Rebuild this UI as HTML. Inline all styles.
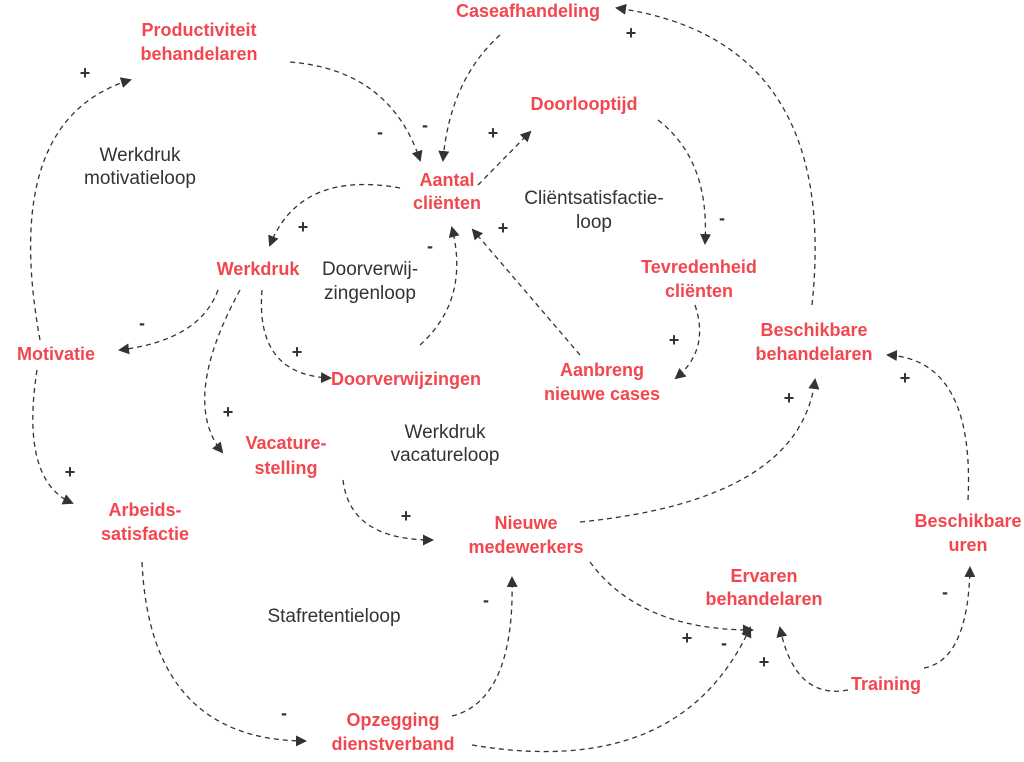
<!DOCTYPE html>
<html><head><meta charset="utf-8"><style>
html,body{margin:0;padding:0;background:#fff}
svg{display:block}
.n{font-family:"Liberation Sans",sans-serif;font-weight:bold;font-size:18px;fill:#f2474f;text-anchor:middle}
.l{font-family:"Liberation Sans",sans-serif;font-size:19px;fill:#333;text-anchor:middle}
.s{font-family:"Liberation Sans",sans-serif;font-weight:bold;font-size:18px;fill:#333;text-anchor:middle}
path.e{fill:none;stroke:#333;stroke-width:1.3;stroke-dasharray:5,4;marker-end:url(#a)}
</style></head><body>
<svg width="1024" height="762" viewBox="0 0 1024 762">
<defs><marker id="a" markerWidth="12" markerHeight="12" refX="9" refY="5.5" orient="auto" markerUnits="userSpaceOnUse"><path d="M0,0 L11,5.5 L0,11 z" fill="#333"/></marker></defs>
<path class="e" d="M290,62 Q390,70 420,160"/>
<path class="e" d="M500,35 Q450,80 443,160"/>
<path class="e" d="M478,185 L530,132"/>
<path class="e" d="M658,120 Q710,160 705,243"/>
<path class="e" d="M695,305 Q710,350 676,378"/>
<path class="e" d="M580,355 L473,230"/>
<path class="e" d="M420,345 Q470,300 452,228"/>
<path class="e" d="M400,188 Q300,170 270,245"/>
<path class="e" d="M262,290 Q255,375 330,378"/>
<path class="e" d="M218,290 Q200,340 120,350"/>
<path class="e" d="M240,290 Q180,400 222,452"/>
<path class="e" d="M40,340 Q0,120 130,80"/>
<path class="e" d="M37,370 Q20,480 72,503"/>
<path class="e" d="M343,480 Q350,540 432,540"/>
<path class="e" d="M142,562 Q150,740 305,741"/>
<path class="e" d="M452,716 Q515,700 512,578"/>
<path class="e" d="M472,745 Q680,780 750,628"/>
<path class="e" d="M590,562 Q640,630 752,630"/>
<path class="e" d="M580,522 Q800,500 815,380"/>
<path class="e" d="M812,305 Q840,40 617,8"/>
<path class="e" d="M848,690 Q795,700 780,628"/>
<path class="e" d="M924,668 Q968,660 970,568"/>
<path class="e" d="M968,500 Q975,360 888,355"/>

<text class="n" x="528" y="17">Caseafhandeling</text>
<text class="n" x="199" y="36">Productiviteit</text><text class="n" x="199" y="60">behandelaren</text>
<text class="n" x="584" y="110">Doorlooptijd</text>
<text class="n" x="447" y="186">Aantal</text><text class="n" x="447" y="209">cliënten</text>
<text class="n" x="258" y="275">Werkdruk</text>
<text class="n" x="699" y="273">Tevredenheid</text><text class="n" x="699" y="297">cliënten</text>
<text class="n" x="814" y="336">Beschikbare</text><text class="n" x="814" y="360">behandelaren</text>
<text class="n" x="56" y="360">Motivatie</text>
<text class="n" x="406" y="385">Doorverwijzingen</text>
<text class="n" x="602" y="376">Aanbreng</text><text class="n" x="602" y="400">nieuwe cases</text>
<text class="n" x="286" y="449">Vacature-</text><text class="n" x="286" y="474">stelling</text>
<text class="n" x="145" y="516">Arbeids-</text><text class="n" x="145" y="540">satisfactie</text>
<text class="n" x="526" y="529">Nieuwe</text><text class="n" x="526" y="553">medewerkers</text>
<text class="n" x="968" y="527">Beschikbare</text><text class="n" x="968" y="551">uren</text>
<text class="n" x="764" y="582">Ervaren</text><text class="n" x="764" y="605">behandelaren</text>
<text class="n" x="886" y="690">Training</text>
<text class="n" x="393" y="726">Opzegging</text><text class="n" x="393" y="750">dienstverband</text>

<text class="l" x="140" y="161">Werkdruk</text><text class="l" x="140" y="184">motivatieloop</text>
<text class="l" x="594" y="204">Cliëntsatisfactie-</text><text class="l" x="594" y="228">loop</text>
<text class="l" x="370" y="275">Doorverwij-</text><text class="l" x="370" y="299">zingenloop</text>
<text class="l" x="445" y="438">Werkdruk</text><text class="l" x="445" y="461">vacatureloop</text>
<text class="l" x="334" y="622">Stafretentieloop</text>

<g class="s">
<text x="85" y="79">+</text><text x="380" y="138">-</text><text x="425" y="131">-</text><text x="493" y="139">+</text>
<text x="631" y="39">+</text><text x="722" y="224">-</text><text x="303" y="233">+</text><text x="430" y="252">-</text>
<text x="503" y="234">+</text><text x="142" y="329">-</text><text x="297" y="358">+</text><text x="674" y="346">+</text>
<text x="228" y="418">+</text><text x="70" y="478">+</text><text x="406" y="522">+</text><text x="789" y="404">+</text>
<text x="905" y="384">+</text><text x="486" y="606">-</text><text x="945" y="598">-</text><text x="687" y="644">+</text>
<text x="724" y="649">-</text><text x="764" y="668">+</text><text x="284" y="719">-</text>
</g>
</svg>
</body></html>
